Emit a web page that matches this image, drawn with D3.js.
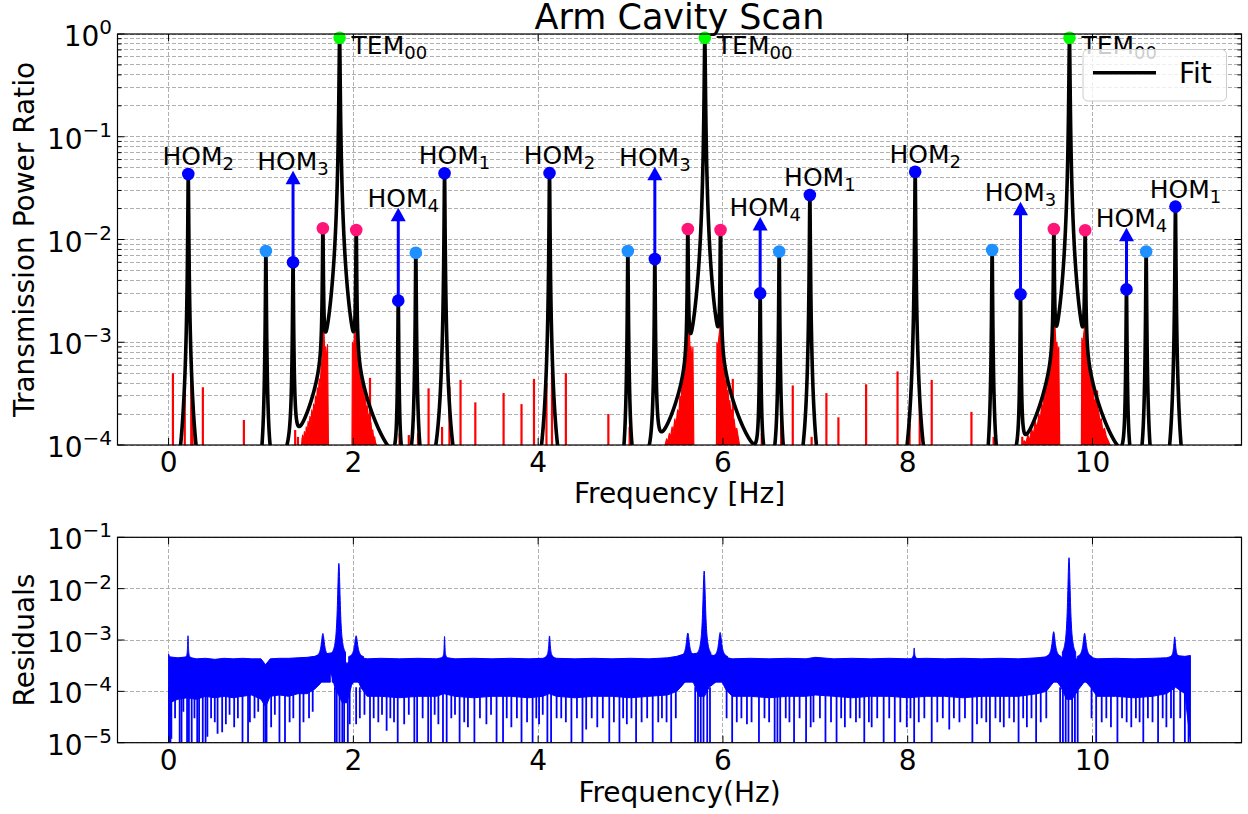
<!DOCTYPE html>
<html><head><meta charset="utf-8">
<script src="https://cdn.jsdelivr.net/npm/d3@7"></script>
<style>
body{margin:0;background:#fff;}
svg{display:block;font-family:"DejaVu Sans",sans-serif;}
</style></head><body>
<svg id="chart" width="1248" height="814"></svg>
<script>
// ---------------- data ----------------
const xTicks = [0, 2, 4, 6, 8, 10];
const topYTicks = [1, 1e-1, 1e-2, 1e-3, 1e-4];
const topYExps = ["0", "\u22121", "\u22122", "\u22123", "\u22124"];
const botYTicks = [1e-1, 1e-2, 1e-3, 1e-4, 1e-5];
const botYExps = ["\u22121", "\u22122", "\u22123", "\u22124", "\u22125"];

// fitted resonances (centre Hz, peak power ratio, half width Hz, mode)
const peakFreq = [0.213,1.053,1.347,1.670,1.851,2.031,2.486,2.676,2.987,4.123,4.971,5.263,5.620,5.804,5.974,6.403,6.609,6.941,8.081,8.914,9.221,9.582,9.751,9.921,10.368,10.581,10.898];
const peakAmp = [0.0434,0.00773,0.0060,0.01285,0.92,0.01236,0.00254,0.00744,0.0441,0.0443,0.00773,0.00646,0.01265,0.92,0.01236,0.00299,0.00765,0.0271,0.0457,0.0079,0.00293,0.01265,0.92,0.0123,0.00327,0.00765,0.0209];
const peakWidth = [0.0038,0.0038,0.0038,0.0038,0.0051,0.0038,0.0038,0.0038,0.0038,0.0038,0.0038,0.0038,0.0038,0.0051,0.0038,0.0038,0.0038,0.0038,0.0038,0.0038,0.0038,0.0038,0.0051,0.0038,0.0038,0.0038,0.0038];
const peakKind = ["HOM2","LB","HOM3","PK","TEM","PK","HOM4","LB","HOM1","HOM2","LB","HOM3","PK","TEM","PK","HOM4","LB","HOM1","HOM2","LB","HOM3","PK","TEM","PK","HOM4","LB","HOM1"];

// arrows for HOM3 / HOM4
const arrowFreq = [1.347, 2.486, 5.263, 6.403, 9.221, 10.368];
const arrowFrom = [0.0060, 0.00254, 0.00646, 0.00299, 0.00293, 0.00327];
const arrowTo   = [0.0468, 0.0204, 0.0511, 0.0166, 0.0233, 0.0130];
const arrowMode = ["3", "4", "3", "4", "3", "4"];

// measured data (red): isolated spikes above 1e-4
const redSpikes = [[0.047,5.0e-4],[0.175,3.5e-4],[0.245,5.5e-4],[0.26,2.0e-4],[0.371,3.65e-4],[0.815,1.75e-4],[1.37,1.4e-4],[1.40,1.2e-4],[1.453,1.17e-4],[2.18,4.5e-4],[2.50,1.3e-4],[2.60,1.25e-4],[2.70,1.3e-4],[2.814,3.56e-4],[2.96,1.5e-4],[3.04,3.7e-4],[3.16,4.3e-4],[3.32,2.6e-4],[3.626,3.2e-4],[3.82,2.5e-4],[3.955,4.4e-4],[4.09,4.0e-4],[4.15,5.5e-4],[4.30,5.0e-4],[4.76,2.0e-4],[4.99,1.5e-4],[6.107,4.4e-4],[6.42,1.3e-4],[6.63,2.0e-4],[6.756,3.8e-4],[6.96,1.2e-4],[7.12,3.2e-4],[7.25,1.86e-4],[7.55,3.9e-4],[7.89,5.2e-4],[8.02,1.6e-4],[8.13,3.5e-4],[8.26,4.3e-4],[8.69,2.1e-4],[8.93,1.2e-4],[9.24,1.2e-4],[10.05,3.4e-4]];
// measured data (red): dense noisy regions around the TEM00 resonances (upper envelope)
const redFill1a = [[1.44,1.0e-4],[1.45,1.25e-4],[1.46,1.05e-4],[1.47,1.35e-4],[1.48,1.1e-4],[1.49,1.5e-4],[1.50,1.2e-4],[1.51,1.7e-4],[1.52,1.35e-4],[1.53,1.9e-4],[1.54,1.5e-4],[1.55,2.2e-4],[1.56,1.7e-4],[1.57,2.5e-4],[1.58,2.0e-4],[1.59,3.0e-4],[1.60,2.4e-4],[1.61,3.6e-4],[1.62,2.9e-4],[1.63,4.4e-4],[1.64,3.6e-4],[1.65,5.5e-4],[1.662,7e-4],[1.67,2e-3],[1.68,1.4e-3],[1.69,8e-4],[1.70,9e-4],[1.71,6e-4],[1.72,9.5e-4],[1.73,1.0e-4]];
const redFill1b = [[1.985,1.0e-4],[1.99,1.0e-3],[2.00,8e-4],[2.01,1.1e-3],[2.02,1.3e-3],[2.03,2e-3],[2.04,1.1e-3],[2.05,7e-4],[2.06,5.5e-4],[2.07,6.2e-4],[2.08,4.2e-4],[2.09,4.7e-4],[2.10,3.3e-4],[2.11,3.7e-4],[2.12,2.7e-4],[2.13,2.9e-4],[2.14,2.2e-4],[2.15,2.4e-4],[2.16,1.8e-4],[2.17,2.0e-4],[2.18,1.5e-4],[2.19,1.65e-4],[2.20,1.3e-4],[2.21,1.4e-4],[2.22,1.15e-4],[2.23,1.2e-4],[2.24,1.05e-4],[2.25,1.0e-4]];
const redFill2a = [[5.375,1.0e-4],[5.39,1.15e-4],[5.40,1.05e-4],[5.42,1.3e-4],[5.43,1.15e-4],[5.45,1.5e-4],[5.46,1.3e-4],[5.48,1.8e-4],[5.49,1.5e-4],[5.51,2.2e-4],[5.52,1.8e-4],[5.535,3.0e-4],[5.545,2.5e-4],[5.56,4.3e-4],[5.57,3.6e-4],[5.585,5.5e-4],[5.605,7e-4],[5.62,2e-3],[5.635,1.4e-3],[5.645,8e-4],[5.655,9e-4],[5.665,6e-4],[5.675,9e-4],[5.685,1.0e-4]];
const redFill2b = [[5.93,1.0e-4],[5.935,1.0e-3],[5.945,8e-4],[5.955,1.1e-3],[5.965,1.3e-3],[5.975,2e-3],[5.985,1.1e-3],[5.995,7e-4],[6.005,5e-4],[6.015,5.6e-4],[6.025,3.9e-4],[6.035,4.3e-4],[6.045,3.1e-4],[6.055,3.4e-4],[6.065,2.5e-4],[6.075,2.7e-4],[6.085,2.0e-4],[6.095,2.2e-4],[6.105,1.7e-4],[6.12,1.8e-4],[6.135,1.4e-4],[6.15,1.45e-4],[6.165,1.2e-4],[6.18,1.0e-4]];
const redFill3a = [[9.24,1.0e-4],[9.26,1.1e-4],[9.28,1.05e-4],[9.30,1.25e-4],[9.32,1.1e-4],[9.34,1.45e-4],[9.36,1.25e-4],[9.38,1.7e-4],[9.40,1.45e-4],[9.42,2.0e-4],[9.435,1.75e-4],[9.45,2.5e-4],[9.46,2.1e-4],[9.475,3.2e-4],[9.485,2.7e-4],[9.50,4.2e-4],[9.51,3.6e-4],[9.525,5.5e-4],[9.54,5e-4],[9.555,7e-4],[9.567,9e-4],[9.582,2e-3],[9.595,1.4e-3],[9.605,9e-4],[9.615,1.0e-3],[9.625,7e-4],[9.635,9e-4],[9.645,1.0e-4]];
const redFill3b = [[9.88,1.0e-4],[9.885,1.1e-3],[9.895,9e-4],[9.905,1.2e-3],[9.915,1.4e-3],[9.925,2e-3],[9.935,1.1e-3],[9.945,7e-4],[9.955,5.2e-4],[9.965,5.8e-4],[9.975,4.0e-4],[9.985,4.4e-4],[9.995,3.2e-4],[10.005,3.5e-4],[10.02,2.6e-4],[10.035,2.8e-4],[10.05,2.1e-4],[10.065,2.2e-4],[10.08,1.7e-4],[10.095,1.8e-4],[10.11,1.4e-4],[10.13,1.45e-4],[10.15,1.2e-4],[10.17,1.1e-4],[10.19,1.0e-4]];

// residuals: dense band [freq, upper edge, lower edge]
const residBand = [[0.000,5.3e-4,1.0e-5],[0.010,4.7e-4,6.0e-5],[0.10,4.5e-4,7e-5],[0.20,4.7e-4,7.5e-5],[0.30,4.3e-4,7e-5],[0.40,4.4e-4,8e-5],[0.50,4.2e-4,7.5e-5],[0.60,4.4e-4,8e-5],[0.70,4.3e-4,7.5e-5],[0.80,4.4e-4,8e-5],[0.90,4.3e-4,8.5e-5],[1.00,4.3e-4,7e-5],[1.05,3.3e-4,5e-5],[1.10,4.3e-4,8e-5],[1.20,4.4e-4,8.5e-5],[1.30,4.4e-4,8e-5],[1.40,4.5e-4,9e-5],[1.50,4.6e-4,9e-5],[1.58,4.8e-4,1.1e-4],[1.64,5.2e-4,1.4e-4],[1.70,5.4e-4,2.0e-4],[1.76,5.6e-4,2.2e-4],[1.80,6.0e-4,1.2e-4],[1.88,4.4e-4,6e-5],[1.93,3.5e-4,6e-5],[1.98,4.0e-4,1.3e-4],[2.03,5.0e-4,2.0e-4],[2.08,4.5e-4,1.2e-4],[2.15,4.3e-4,8e-5],[2.30,4.4e-4,8e-5],[2.50,4.3e-4,7.5e-5],[2.70,4.4e-4,8e-5],[2.90,4.3e-4,8e-5],[2.98,4.6e-4,9e-5],[3.10,4.3e-4,8e-5],[3.30,4.4e-4,7.5e-5],[3.50,4.3e-4,8e-5],[3.70,4.4e-4,8e-5],[3.90,4.3e-4,7.5e-5],[4.05,4.4e-4,8e-5],[4.12,4.8e-4,9e-5],[4.20,4.4e-4,8e-5],[4.40,4.3e-4,7.5e-5],[4.60,4.4e-4,8e-5],[4.80,4.3e-4,8e-5],[5.00,4.4e-4,7.5e-5],[5.20,4.3e-4,8e-5],[5.40,4.5e-4,8.5e-5],[5.50,4.8e-4,1.0e-4],[5.56,5.2e-4,1.3e-4],[5.62,5.6e-4,1.8e-4],[5.68,5.4e-4,1.5e-4],[5.74,5.6e-4,8e-5],[5.80,5.6e-4,8e-5],[5.85,5.2e-4,1.2e-4],[5.90,5.0e-4,1.4e-4],[5.97,5.4e-4,1.8e-4],[6.03,4.6e-4,1.1e-4],[6.10,4.3e-4,8e-5],[6.30,4.4e-4,8e-5],[6.50,4.3e-4,7.5e-5],[6.70,4.4e-4,8e-5],[6.90,4.3e-4,8e-5],[7.00,4.6e-4,8.5e-5],[7.20,4.3e-4,8e-5],[7.40,4.4e-4,7.5e-5],[7.60,4.3e-4,8e-5],[7.80,4.4e-4,8e-5],[8.00,4.3e-4,7.5e-5],[8.20,4.4e-4,8e-5],[8.40,4.3e-4,8e-5],[8.60,4.4e-4,7.5e-5],[8.80,4.3e-4,8e-5],[9.00,4.4e-4,8e-5],[9.20,4.3e-4,8e-5],[9.40,4.5e-4,9e-5],[9.50,4.7e-4,1.0e-4],[9.55,5.2e-4,1.3e-4],[9.60,5.6e-4,1.7e-4],[9.66,4.6e-4,1.2e-4],[9.72,4.2e-4,7e-5],[9.78,4.0e-4,7e-5],[9.85,4.4e-4,1.1e-4],[9.92,5.4e-4,1.6e-4],[9.98,4.6e-4,1.2e-4],[10.05,4.3e-4,8e-5],[10.25,4.4e-4,8e-5],[10.45,4.3e-4,7.5e-5],[10.65,4.4e-4,8e-5],[10.80,4.5e-4,9e-5],[10.90,5.0e-4,1.2e-4],[11.00,4.8e-4,9e-5],[11.06,5.0e-4,1.0e-5]];
// residuals: downward dips [freq, lowest value]
const residDips = [[0.005,1e-5],[0.02,1e-5],[0.03,1.2e-5],[0.07,3e-5],[0.12,1e-5],[0.14,1e-5],[0.16,4e-5],[0.20,1e-5],[0.22,1e-5],[0.25,1e-5],[0.28,3e-5],[0.31,1e-5],[0.33,1e-5],[0.37,1e-5],[0.40,1e-5],[0.42,1.3e-5],[0.46,3e-5],[0.50,2.5e-5],[0.53,1.5e-5],[0.58,1.6e-5],[0.62,2.3e-5],[0.66,3.5e-5],[0.71,2e-5],[0.75,3e-5],[0.80,1e-5],[0.86,1e-5],[0.88,2.5e-5],[0.93,3e-5],[0.97,4e-5],[1.03,1e-5],[1.05,1e-5],[1.06,1e-5],[1.11,2e-5],[1.15,3.5e-5],[1.20,1e-5],[1.26,1e-5],[1.31,2.5e-5],[1.35,3e-5],[1.42,1e-5],[1.46,2.5e-5],[1.52,3e-5],[1.56,4e-5],[1.80,1e-5],[1.82,1e-5],[1.85,1e-5],[1.88,1e-5],[1.90,1e-5],[1.94,1e-5],[1.96,2.3e-5],[2.03,2.3e-5],[2.07,3e-5],[2.12,3.5e-5],[2.18,1e-5],[2.22,3e-5],[2.27,2.5e-5],[2.31,3.5e-5],[2.36,1.7e-5],[2.40,3e-5],[2.44,2.5e-5],[2.48,1e-5],[2.55,2.3e-5],[2.60,3.5e-5],[2.66,1e-5],[2.69,1e-5],[2.75,3e-5],[2.81,1e-5],[2.84,1e-5],[2.88,3.5e-5],[2.92,2.3e-5],[2.97,1e-5],[3.01,1e-5],[3.06,3e-5],[3.10,3.5e-5],[3.15,1e-5],[3.20,2.5e-5],[3.24,2e-5],[3.31,1e-5],[3.37,3e-5],[3.44,2.3e-5],[3.49,3.5e-5],[3.55,1e-5],[3.62,1e-5],[3.66,3e-5],[3.71,2e-5],[3.77,3e-5],[3.82,1e-5],[3.88,2.5e-5],[3.94,1e-5],[3.98,3e-5],[4.01,2.3e-5],[4.05,3.5e-5],[4.10,1e-5],[4.14,1e-5],[4.20,3e-5],[4.25,3e-5],[4.30,2.5e-5],[4.36,1e-5],[4.42,3e-5],[4.48,1e-5],[4.52,1.8e-5],[4.58,3e-5],[4.64,2e-5],[4.70,3e-5],[4.77,1e-5],[4.82,2.5e-5],[4.88,1e-5],[4.92,3e-5],[4.96,2.3e-5],[5.01,3e-5],[5.06,1e-5],[5.12,2.5e-5],[5.18,3e-5],[5.24,1e-5],[5.30,2.5e-5],[5.34,3e-5],[5.39,2.5e-5],[5.44,1e-5],[5.49,3e-5],[5.70,1e-5],[5.73,1e-5],[5.76,1e-5],[5.79,1e-5],[5.83,1e-5],[5.86,1e-5],[6.04,3e-5],[6.10,1e-5],[6.15,2.5e-5],[6.20,3e-5],[6.26,2.3e-5],[6.31,2.5e-5],[6.39,1e-5],[6.45,3e-5],[6.50,2.5e-5],[6.56,1e-5],[6.59,1e-5],[6.62,1e-5],[6.68,3e-5],[6.72,2.5e-5],[6.77,1e-5],[6.83,3e-5],[6.90,1e-5],[6.95,2e-5],[6.98,2.5e-5],[7.05,3e-5],[7.11,1e-5],[7.17,2.5e-5],[7.23,1e-5],[7.28,3e-5],[7.32,2e-5],[7.38,3e-5],[7.44,2.5e-5],[7.48,3e-5],[7.53,1e-5],[7.58,2.5e-5],[7.61,2e-5],[7.67,3e-5],[7.74,1e-5],[7.80,3e-5],[7.86,1e-5],[7.92,2.5e-5],[7.99,2e-5],[8.03,3e-5],[8.07,1e-5],[8.12,2.5e-5],[8.18,3e-5],[8.26,1e-5],[8.32,2.5e-5],[8.38,3e-5],[8.45,1.8e-5],[8.50,3e-5],[8.56,2.5e-5],[8.62,3e-5],[8.70,1e-5],[8.75,2.3e-5],[8.80,3e-5],[8.85,2.5e-5],[8.89,1e-5],[8.95,3e-5],[9.00,2.5e-5],[9.04,2e-5],[9.10,3e-5],[9.15,2.5e-5],[9.20,1e-5],[9.25,3e-5],[9.29,2e-5],[9.34,3e-5],[9.39,1e-5],[9.44,2.5e-5],[9.50,3e-5],[9.65,1e-5],[9.68,1e-5],[9.71,1e-5],[9.74,1e-5],[9.78,1e-5],[9.81,1e-5],[9.84,1e-5],[9.99,3e-5],[10.04,1e-5],[10.10,2.5e-5],[10.15,3e-5],[10.20,2e-5],[10.27,1e-5],[10.32,3e-5],[10.37,2.5e-5],[10.42,2e-5],[10.47,3e-5],[10.51,2.5e-5],[10.55,1e-5],[10.60,3e-5],[10.65,2.5e-5],[10.71,1e-5],[10.76,3e-5],[10.80,2e-5],[10.85,3e-5],[10.88,1e-5],[10.95,3e-5],[11.00,1e-5],[11.04,1e-5]];
// residuals: upward spikes [freq, peak value, half width Hz]
const residSpikes = [[0.21,1.21e-3,0.005],[1.67,1.34e-3,0.02],[1.843,3.1e-2,0.018],[2.03,1.21e-3,0.02],[2.987,1.17e-3,0.005],[4.123,1.2e-3,0.01],[5.62,1.37e-3,0.02],[5.797,2.2e-2,0.018],[5.97,1.4e-3,0.02],[8.07,7e-4,0.005],[9.58,1.45e-3,0.02],[9.746,4.0e-2,0.018],[9.915,1.35e-3,0.02],[10.89,1.15e-3,0.012]];
const residBase = 4.5e-4;

// ---------------- layout ----------------
const L = 117.5, R = 1241.5;
const topT = 34, topB = 445, botT = 537.3, botB = 742.7;
const FONT = 28, LBL = 25, SUB = 18;
const colors = {HOM1:"#0000ff",HOM2:"#0000ff",HOM3:"#0000ff",HOM4:"#0000ff",LB:"#1e90ff",PK:"#ff1478",TEM:"#00ff00"};

const svg = d3.select("#chart");
const x = d3.scaleLinear().domain([-0.553, 11.613]).range([L, R]);
const yTop = d3.scaleLog().domain([1e-4, 1]).range([topB, topT]);
const yBot = d3.scaleLog().domain([1e-5, 1e-1]).range([botB, botT]);

const defs = svg.append("defs");
defs.append("clipPath").attr("id","clipTop").append("rect").attr("x",L).attr("y",topT).attr("width",R-L).attr("height",topB-topT);
defs.append("clipPath").attr("id","clipBot").append("rect").attr("x",L).attr("y",botT).attr("width",R-L).attr("height",botB-botT);

// ---------- grids ----------
function grid(yScale, yVals, t, b) {
  const g = svg.append("g").attr("stroke","#b0b0b0").attr("stroke-width",1)
    .attr("stroke-dasharray","4,2").attr("shape-rendering","crispEdges");
  xTicks.forEach(v => g.append("line").attr("x1",x(v)).attr("x2",x(v)).attr("y1",t).attr("y2",b));
  yVals.forEach(v => g.append("line").attr("x1",L).attr("x2",R).attr("y1",yScale(v)).attr("y2",yScale(v)));
}
grid(yTop, yTop.ticks(), topT, topB);
grid(yBot, botYTicks, botT, botB);

// ---------- top panel: measured data ----------
const gRed = svg.append("g").attr("clip-path","url(#clipTop)");
const redArea = d3.area().x(d => x(d[0])).y0(topB + 3).y1(d => yTop(d[1]));
[redFill1a, redFill1b, redFill2a, redFill2b, redFill3a, redFill3b].forEach(arr => {
  gRed.append("path").datum(arr).attr("d", redArea).attr("fill","#ff0000")
    .attr("stroke","#ff0000").attr("stroke-width",1.2).attr("stroke-linejoin","round");
});
redSpikes.forEach(([f, v]) => {
  gRed.append("line").attr("x1",x(f)).attr("x2",x(f)).attr("y1",topB + 3).attr("y2",yTop(v))
    .attr("stroke","#ff0000").attr("stroke-width",2.2);
});

// ---------- fit ----------
const fitGrid = d3.range(0, 11.06, 0.0005).concat(peakFreq).sort(d3.ascending);
const fitVal = f => d3.sum(peakFreq, (c, i) => peakAmp[i] / (1 + ((f - c) / peakWidth[i]) ** 2));
svg.append("g").attr("clip-path","url(#clipTop)").append("path")
  .datum(fitGrid)
  .attr("d", d3.line().x(f => x(f)).y(f => yTop(Math.max(fitVal(f), 1e-6))))
  .attr("fill","none").attr("stroke","#000").attr("stroke-width",3.6).attr("stroke-linejoin","round");

// ---------- arrows ----------
const gArr = svg.append("g");
arrowFreq.forEach((f, i) => {
  const xx = x(f), y0 = yTop(arrowFrom[i]), y1 = yTop(arrowTo[i]);
  gArr.append("line").attr("x1",xx).attr("x2",xx).attr("y1",y0).attr("y2",y1 + 12)
    .attr("stroke","#0000ff").attr("stroke-width",3);
  gArr.append("path").attr("d",`M${xx},${y1} L${xx-7.5},${y1+13.5} L${xx+7.5},${y1+13.5} Z`).attr("fill","#0000ff");
});

// ---------- markers ----------
const gDots = svg.append("g");
peakFreq.forEach((f, i) => {
  gDots.append("circle").attr("cx",x(f)).attr("cy",yTop(peakAmp[i])).attr("r",6.3).attr("fill",colors[peakKind[i]]);
});

// ---------- labels ----------
const gLab = svg.append("g").attr("fill","#000");
function modeLabel(xx, yy, main, sub, anchor) {
  const t = gLab.append("text").attr("x",xx).attr("y",yy).attr("font-size",LBL).attr("text-anchor",anchor);
  t.append("tspan").text(main);
  t.append("tspan").attr("font-size",SUB).attr("dy",5).text(sub);
}
peakFreq.forEach((f, i) => {
  const k = peakKind[i];
  if (k === "HOM1" || k === "HOM2") modeLabel(x(f) + 10, yTop(peakAmp[i]) - 9, "HOM", k.slice(3), "middle");
  if (k === "TEM") modeLabel(x(f) + 12, yTop(peakAmp[i]) + 16.5, "TEM", "00", "start");
});
arrowFreq.forEach((f, i) => {
  const dx = arrowMode[i] === "3" ? 0 : 5;
  modeLabel(x(f) + dx, yTop(arrowTo[i]) - 1, "HOM", arrowMode[i], "middle");
});

// ---------- residuals ----------
const gRes = svg.append("g").attr("clip-path","url(#clipBot)");
gRes.append("path").datum(residBand)
  .attr("d", d3.area().x(d => x(d[0])).y0(d => yBot(d[2])).y1(d => yBot(d[1])))
  .attr("fill","#0000ff").attr("stroke","#0000ff").attr("stroke-width",1);
residDips.forEach(([f, v]) => {
  gRes.append("line").attr("x1",x(f)).attr("x2",x(f)).attr("y1",yBot(1.2e-4)).attr("y2",yBot(v))
    .attr("stroke","#0000ff").attr("stroke-width",1.8);
});
residSpikes.forEach(([f, pk, hw]) => {
  const pts = d3.range(-4, 4.001, 0.1).map(u => [f + u * hw, residBase * Math.pow(pk / residBase, 1 / (1 + u * u))]);
  gRes.append("path").datum(pts)
    .attr("d", d3.area().x(d => x(d[0])).y0(yBot(1.5e-4)).y1(d => yBot(d[1])))
    .attr("fill","#0000ff").attr("stroke","#0000ff").attr("stroke-width",1);
});

// ---------- frames, ticks, tick labels ----------
function frame(yScale, t, b, yMajor, yExps, minorVals) {
  svg.append("rect").attr("x",L).attr("y",t).attr("width",R-L).attr("height",b-t)
    .attr("fill","none").attr("stroke","#000").attr("stroke-width",1.2);
  const g = svg.append("g").attr("stroke","#000").attr("stroke-width",1);
  xTicks.forEach(v => {
    g.append("line").attr("x1",x(v)).attr("x2",x(v)).attr("y1",b).attr("y2",b-7);
    g.append("line").attr("x1",x(v)).attr("x2",x(v)).attr("y1",t).attr("y2",t+7);
  });
  yMajor.forEach(v => {
    g.append("line").attr("x1",L).attr("x2",L+7).attr("y1",yScale(v)).attr("y2",yScale(v));
    g.append("line").attr("x1",R).attr("x2",R-7).attr("y1",yScale(v)).attr("y2",yScale(v));
  });
  minorVals.forEach(v => {
    g.append("line").attr("x1",L).attr("x2",L+4).attr("y1",yScale(v)).attr("y2",yScale(v));
    g.append("line").attr("x1",R).attr("x2",R-4).attr("y1",yScale(v)).attr("y2",yScale(v));
  });
  const gl = svg.append("g").attr("fill","#000");
  xTicks.forEach(v => gl.append("text").attr("x",x(v)).attr("y",b+27).attr("font-size",FONT)
    .attr("text-anchor","middle").text(v));
  yMajor.forEach((v, i) => {
    const tt = gl.append("text").attr("x",112).attr("y",yScale(v)+12).attr("font-size",FONT).attr("text-anchor","end");
    tt.append("tspan").text("10");
    tt.append("tspan").attr("font-size",20).attr("dy",-12).text(yExps[i]);
  });
}
frame(yTop, topT, topB, topYTicks, topYExps, yTop.ticks().filter(v => !topYTicks.some(m => Math.abs(m - v) / m < 1e-6)));
frame(yBot, botT, botB, botYTicks, botYExps, []);

// ---------- titles ----------
svg.append("text").attr("x",(L+R)/2).attr("y",29).attr("font-size",35).attr("text-anchor","middle").text("Arm Cavity Scan");
svg.append("text").attr("x",(L+R)/2).attr("y",503).attr("font-size",FONT).attr("text-anchor","middle").text("Frequency [Hz]");
svg.append("text").attr("x",(L+R)/2).attr("y",802).attr("font-size",FONT).attr("text-anchor","middle").text("Frequency(Hz)");
svg.append("text").attr("transform",`translate(34,${(topT+topB)/2}) rotate(-90)`).attr("font-size",FONT)
  .attr("text-anchor","middle").text("Transmission Power Ratio");
svg.append("text").attr("transform",`translate(34,${(botT+botB)/2}) rotate(-90)`).attr("font-size",FONT)
  .attr("text-anchor","middle").text("Residuals");

// ---------- legend ----------
const lg = svg.append("g");
lg.append("rect").attr("x",1083).attr("y",49.5).attr("width",143.5).attr("height",51.5).attr("rx",5)
  .attr("fill","#fff").attr("fill-opacity",0.8).attr("stroke","#cccccc").attr("stroke-width",1);
lg.append("line").attr("x1",1093).attr("x2",1156).attr("y1",72.7).attr("y2",72.7).attr("stroke","#000").attr("stroke-width",3.6);
lg.append("text").attr("x",1179).attr("y",83.3).attr("font-size",FONT).text("Fit");
</script>
</body></html>
